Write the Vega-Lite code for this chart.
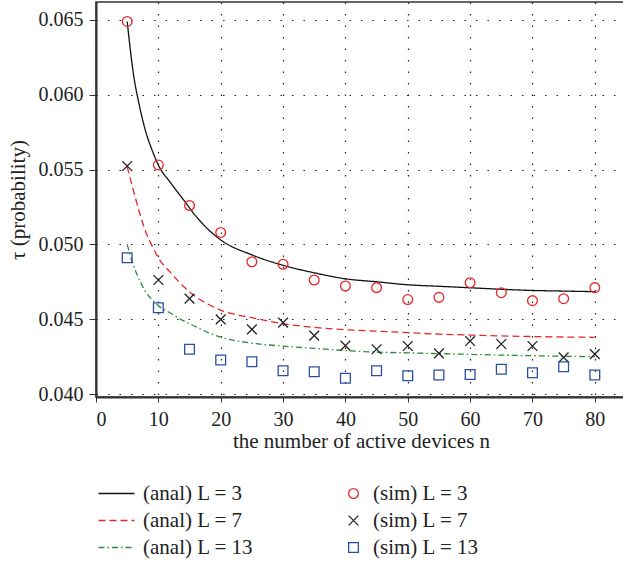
{
  "$schema": "https://vega.github.io/schema/vega-lite/v6.json",
  "autosize": {"type": "none"},
  "width": 530,
  "height": 395,
  "padding": {"left": 96, "top": 2, "right": 0, "bottom": 166},
  "background": "white",
  "config": {
    "font": "Liberation Serif",
    "view": {"stroke": "#333", "strokeWidth": 1.5},
    "axis": {"labelFont": "Liberation Serif", "titleFont": "Liberation Serif", "labelFontSize": 20, "titleFontSize": 21, "labelColor": "#222", "titleColor": "#222", "titleFontWeight": "normal", "domainColor": "#333", "domainWidth": 2, "tickColor": "#333", "gridColor": "#222", "gridDash": [1.5, 10], "gridWidth": 1.2, "gridOpacity": 1},
    "legend": {"labelFont": "Liberation Serif", "labelFontSize": 21, "labelColor": "#222", "padding": 0, "rowPadding": 5}
  },
  "datasets": {
    "anal": [
      {"n": 5, "tau": 0.0649, "curve": "(anal) L = 3"},
      {"n": 6, "tau": 0.0614, "curve": "(anal) L = 3"},
      {"n": 7, "tau": 0.0592, "curve": "(anal) L = 3"},
      {"n": 8, "tau": 0.0575, "curve": "(anal) L = 3"},
      {"n": 9, "tau": 0.0563, "curve": "(anal) L = 3"},
      {"n": 10, "tau": 0.0553, "curve": "(anal) L = 3"},
      {"n": 12, "tau": 0.0541, "curve": "(anal) L = 3"},
      {"n": 14, "tau": 0.0530, "curve": "(anal) L = 3"},
      {"n": 16, "tau": 0.0519, "curve": "(anal) L = 3"},
      {"n": 18, "tau": 0.0510, "curve": "(anal) L = 3"},
      {"n": 20, "tau": 0.0503, "curve": "(anal) L = 3"},
      {"n": 25, "tau": 0.0493, "curve": "(anal) L = 3"},
      {"n": 30, "tau": 0.0486, "curve": "(anal) L = 3"},
      {"n": 35, "tau": 0.0481, "curve": "(anal) L = 3"},
      {"n": 40, "tau": 0.0477, "curve": "(anal) L = 3"},
      {"n": 45, "tau": 0.0475, "curve": "(anal) L = 3"},
      {"n": 50, "tau": 0.0473, "curve": "(anal) L = 3"},
      {"n": 55, "tau": 0.0472, "curve": "(anal) L = 3"},
      {"n": 60, "tau": 0.0471, "curve": "(anal) L = 3"},
      {"n": 65, "tau": 0.0470, "curve": "(anal) L = 3"},
      {"n": 70, "tau": 0.04692, "curve": "(anal) L = 3"},
      {"n": 75, "tau": 0.04688, "curve": "(anal) L = 3"},
      {"n": 80, "tau": 0.04684, "curve": "(anal) L = 3"},
      {"n": 5, "tau": 0.0552, "curve": "(anal) L = 7"},
      {"n": 6, "tau": 0.0536, "curve": "(anal) L = 7"},
      {"n": 7, "tau": 0.0521, "curve": "(anal) L = 7"},
      {"n": 8, "tau": 0.0508, "curve": "(anal) L = 7"},
      {"n": 9, "tau": 0.0499, "curve": "(anal) L = 7"},
      {"n": 10, "tau": 0.0491, "curve": "(anal) L = 7"},
      {"n": 12, "tau": 0.0481, "curve": "(anal) L = 7"},
      {"n": 14, "tau": 0.0472, "curve": "(anal) L = 7"},
      {"n": 16, "tau": 0.0465, "curve": "(anal) L = 7"},
      {"n": 18, "tau": 0.0460, "curve": "(anal) L = 7"},
      {"n": 20, "tau": 0.0456, "curve": "(anal) L = 7"},
      {"n": 25, "tau": 0.0451, "curve": "(anal) L = 7"},
      {"n": 30, "tau": 0.0447, "curve": "(anal) L = 7"},
      {"n": 35, "tau": 0.04445, "curve": "(anal) L = 7"},
      {"n": 40, "tau": 0.0443, "curve": "(anal) L = 7"},
      {"n": 45, "tau": 0.0442, "curve": "(anal) L = 7"},
      {"n": 50, "tau": 0.0441, "curve": "(anal) L = 7"},
      {"n": 55, "tau": 0.0440, "curve": "(anal) L = 7"},
      {"n": 60, "tau": 0.04394, "curve": "(anal) L = 7"},
      {"n": 65, "tau": 0.04388, "curve": "(anal) L = 7"},
      {"n": 70, "tau": 0.04384, "curve": "(anal) L = 7"},
      {"n": 75, "tau": 0.04381, "curve": "(anal) L = 7"},
      {"n": 80, "tau": 0.04379, "curve": "(anal) L = 7"},
      {"n": 5, "tau": 0.0500, "curve": "(anal) L = 13"},
      {"n": 6, "tau": 0.0486, "curve": "(anal) L = 13"},
      {"n": 7, "tau": 0.0476, "curve": "(anal) L = 13"},
      {"n": 8, "tau": 0.0468, "curve": "(anal) L = 13"},
      {"n": 9, "tau": 0.0463, "curve": "(anal) L = 13"},
      {"n": 10, "tau": 0.0459, "curve": "(anal) L = 13"},
      {"n": 12, "tau": 0.0454, "curve": "(anal) L = 13"},
      {"n": 14, "tau": 0.0449, "curve": "(anal) L = 13"},
      {"n": 16, "tau": 0.0445, "curve": "(anal) L = 13"},
      {"n": 18, "tau": 0.0441, "curve": "(anal) L = 13"},
      {"n": 20, "tau": 0.0438, "curve": "(anal) L = 13"},
      {"n": 25, "tau": 0.0434, "curve": "(anal) L = 13"},
      {"n": 30, "tau": 0.0432, "curve": "(anal) L = 13"},
      {"n": 35, "tau": 0.04305, "curve": "(anal) L = 13"},
      {"n": 40, "tau": 0.0429, "curve": "(anal) L = 13"},
      {"n": 45, "tau": 0.0428, "curve": "(anal) L = 13"},
      {"n": 50, "tau": 0.04275, "curve": "(anal) L = 13"},
      {"n": 55, "tau": 0.0427, "curve": "(anal) L = 13"},
      {"n": 60, "tau": 0.04265, "curve": "(anal) L = 13"},
      {"n": 65, "tau": 0.0426, "curve": "(anal) L = 13"},
      {"n": 70, "tau": 0.04256, "curve": "(anal) L = 13"},
      {"n": 75, "tau": 0.04252, "curve": "(anal) L = 13"},
      {"n": 80, "tau": 0.0425, "curve": "(anal) L = 13"}
    ],
    "sim": [
      {"n": 5, "tau": 0.0649, "sim": "(sim) L = 3"},
      {"n": 10, "tau": 0.0553, "sim": "(sim) L = 3"},
      {"n": 15, "tau": 0.0526, "sim": "(sim) L = 3"},
      {"n": 20, "tau": 0.0508, "sim": "(sim) L = 3"},
      {"n": 25, "tau": 0.04884, "sim": "(sim) L = 3"},
      {"n": 30, "tau": 0.04867, "sim": "(sim) L = 3"},
      {"n": 35, "tau": 0.04762, "sim": "(sim) L = 3"},
      {"n": 40, "tau": 0.04722, "sim": "(sim) L = 3"},
      {"n": 45, "tau": 0.04711, "sim": "(sim) L = 3"},
      {"n": 50, "tau": 0.04631, "sim": "(sim) L = 3"},
      {"n": 55, "tau": 0.04646, "sim": "(sim) L = 3"},
      {"n": 60, "tau": 0.04744, "sim": "(sim) L = 3"},
      {"n": 65, "tau": 0.04677, "sim": "(sim) L = 3"},
      {"n": 70, "tau": 0.04624, "sim": "(sim) L = 3"},
      {"n": 75, "tau": 0.04637, "sim": "(sim) L = 3"},
      {"n": 80, "tau": 0.04711, "sim": "(sim) L = 3"},
      {"n": 5, "tau": 0.05524, "sim": "(sim) L = 7"},
      {"n": 10, "tau": 0.04762, "sim": "(sim) L = 7"},
      {"n": 15, "tau": 0.04637, "sim": "(sim) L = 7"},
      {"n": 20, "tau": 0.04499, "sim": "(sim) L = 7"},
      {"n": 25, "tau": 0.04432, "sim": "(sim) L = 7"},
      {"n": 30, "tau": 0.04477, "sim": "(sim) L = 7"},
      {"n": 35, "tau": 0.0439, "sim": "(sim) L = 7"},
      {"n": 40, "tau": 0.04323, "sim": "(sim) L = 7"},
      {"n": 45, "tau": 0.04299, "sim": "(sim) L = 7"},
      {"n": 50, "tau": 0.04321, "sim": "(sim) L = 7"},
      {"n": 55, "tau": 0.04272, "sim": "(sim) L = 7"},
      {"n": 60, "tau": 0.04354, "sim": "(sim) L = 7"},
      {"n": 65, "tau": 0.04334, "sim": "(sim) L = 7"},
      {"n": 70, "tau": 0.04321, "sim": "(sim) L = 7"},
      {"n": 75, "tau": 0.04245, "sim": "(sim) L = 7"},
      {"n": 80, "tau": 0.04267, "sim": "(sim) L = 7"},
      {"n": 5, "tau": 0.04911, "sim": "(sim) L = 13"},
      {"n": 10, "tau": 0.04577, "sim": "(sim) L = 13"},
      {"n": 15, "tau": 0.04299, "sim": "(sim) L = 13"},
      {"n": 20, "tau": 0.04227, "sim": "(sim) L = 13"},
      {"n": 25, "tau": 0.04216, "sim": "(sim) L = 13"},
      {"n": 30, "tau": 0.04156, "sim": "(sim) L = 13"},
      {"n": 35, "tau": 0.04149, "sim": "(sim) L = 13"},
      {"n": 40, "tau": 0.04105, "sim": "(sim) L = 13"},
      {"n": 45, "tau": 0.04156, "sim": "(sim) L = 13"},
      {"n": 50, "tau": 0.04122, "sim": "(sim) L = 13"},
      {"n": 55, "tau": 0.04127, "sim": "(sim) L = 13"},
      {"n": 60, "tau": 0.04131, "sim": "(sim) L = 13"},
      {"n": 65, "tau": 0.04165, "sim": "(sim) L = 13"},
      {"n": 70, "tau": 0.04142, "sim": "(sim) L = 13"},
      {"n": 75, "tau": 0.04182, "sim": "(sim) L = 13"},
      {"n": 80, "tau": 0.04127, "sim": "(sim) L = 13"}
    ]
  },
  "encoding": {
    "x": {"field": "n", "type": "quantitative", "scale": {"domain": [0, 85], "nice": false, "zero": false},
      "axis": {"values": [0, 10, 20, 30, 40, 50, 60, 70, 80], "title": "the number of active devices n", "tickSize": 5, "labelPadding": 7, "titlePadding": 1}},
    "y": {"field": "tau", "type": "quantitative", "scale": {"domain": [0.0398, 0.0662], "nice": false, "zero": false},
      "axis": {"values": [0.04, 0.045, 0.05, 0.055, 0.06, 0.065], "format": ".3f", "title": "τ (probability)", "tickSize": 7, "labelPadding": 6, "titlePadding": 10}}
  },
  "layer": [
    {
      "data": {"name": "anal"},
      "mark": {"type": "line", "interpolate": "monotone", "strokeWidth": 1.3, "clip": true},
      "encoding": {
        "color": {"field": "curve", "type": "nominal",
          "scale": {"domain": ["(anal) L = 3", "(anal) L = 7", "(anal) L = 13"], "range": ["#111111", "#e8262a", "#2a8a3a"]},
          "legend": {"orient": "none", "legendX": 10, "legendY": 481, "title": null, "symbolType": "M-3.6,0H3.6", "symbolSize": 100, "symbolStrokeWidth": 1.5, "labelOffset": 16}},
        "strokeDash": {"field": "curve", "type": "nominal",
          "scale": {"domain": ["(anal) L = 3", "(anal) L = 7", "(anal) L = 13"], "range": [[1, 0], [7, 4], [6, 3, 1.5, 3]]},
          "legend": {"orient": "none", "legendX": 10, "legendY": 481, "title": null, "symbolType": "M-3.6,0H3.6", "symbolSize": 100, "symbolStrokeWidth": 1.5, "labelOffset": 16}}
      }
    },
    {
      "data": {"name": "sim"},
      "mark": {"type": "point", "filled": false, "size": 95, "strokeWidth": 1.3, "opacity": 1},
      "encoding": {
        "color": {"field": "sim", "type": "nominal",
          "scale": {"domain": ["(sim) L = 3", "(sim) L = 7", "(sim) L = 13"], "range": ["#e8262a", "#222222", "#2b4ea3"]},
          "legend": {"orient": "none", "legendX": 247, "legendY": 481, "title": null, "symbolSize": 95, "symbolStrokeWidth": 1.3, "labelOffset": 9}},
        "shape": {"field": "sim", "type": "nominal",
          "scale": {"domain": ["(sim) L = 3", "(sim) L = 7", "(sim) L = 13"], "range": ["circle", "M-1,-1L1,1M-1,1L1,-1", "square"]},
          "legend": {"orient": "none", "legendX": 247, "legendY": 481, "title": null, "symbolSize": 95, "symbolStrokeWidth": 1.3, "labelOffset": 9}}
      }
    }
  ],
  "resolve": {"scale": {"color": "independent", "shape": "independent", "strokeDash": "independent"}}
}
